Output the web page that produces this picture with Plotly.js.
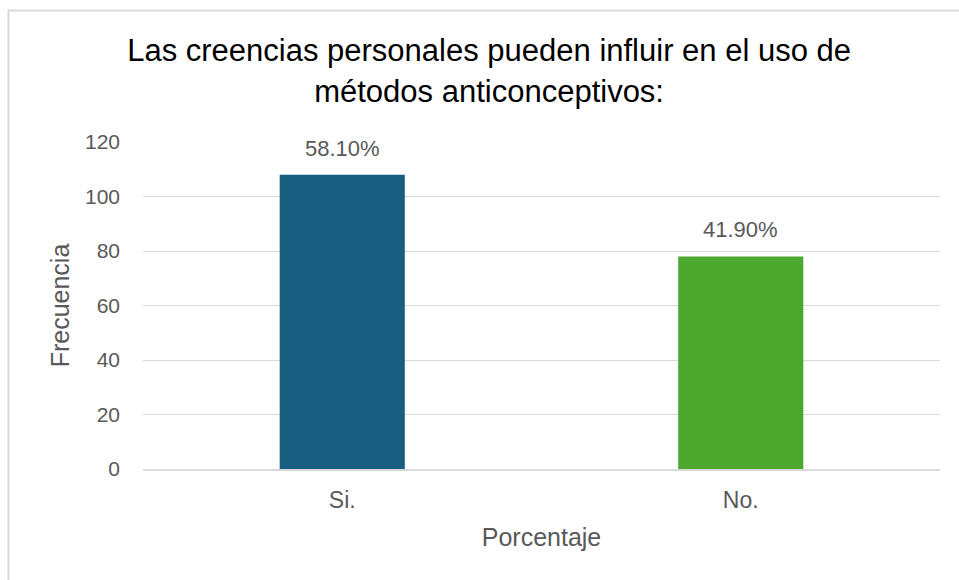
<!DOCTYPE html>
<html>
<head>
<meta charset="utf-8">
<script src="https://cdn.plot.ly/plotly-3.0.1.min.js"></script>
<style>
html, body { margin: 0; padding: 0; background: #ffffff; }
#chart { width: 959px; height: 580px; }
</style>
</head>
<body>
<div id="chart"></div>
<script>
const categories = ["Si.", "No."];
const frequencies = [108, 78];
const percentLabels = ["58.10%", "41.90%"];
const barColors = ["#175E80", "#4EA72E"];
const yTickValues = [0, 20, 40, 60, 80, 100, 120];

const FONT = "Liberation Sans, Arial, sans-serif";
const GREY = "#595959";

const trace = {
  type: "bar",
  x: categories,
  y: frequencies,
  marker: { color: barColors, line: { width: 0 } },
  hoverinfo: "none",
  cliponaxis: false
};

const annotations = categories.map((c, i) => ({
  x: c,
  y: frequencies[i],
  xref: "x",
  yref: "y",
  text: percentLabels[i],
  showarrow: false,
  yanchor: "bottom",
  yshift: 12,
  font: { family: FONT, size: 22, color: GREY }
}));

const layout = {
  width: 959,
  height: 580,
  margin: { l: 143, r: 19, t: 142, b: 111, pad: 0 },
  paper_bgcolor: "#ffffff",
  plot_bgcolor: "#ffffff",
  showlegend: false,
  bargap: 0.686,
  title: {
    text: "Las creencias personales pueden influir en el uso de<br>métodos anticonceptivos:",
    font: { family: FONT, size: 31, color: "#000000" },
    x: 0.51,
    xanchor: "center",
    y: 0.894,
    yanchor: "middle"
  },
  xaxis: {
    type: "category",
    showgrid: false,
    showline: true,
    linecolor: "#d9d9d9",
    linewidth: 2,
    ticks: "",
    tickfont: { family: FONT, size: 23, color: GREY },
    ticklabelstandoff: 9,
    title: {
      text: "Porcentaje",
      font: { family: FONT, size: 25, color: GREY },
      standoff: 17
    }
  },
  yaxis: {
    range: [0, 120],
    tickvals: yTickValues,
    ticktext: yTickValues.map(String),
    showgrid: true,
    gridcolor: "#d9d9d9",
    gridwidth: 1,
    zeroline: false,
    showline: false,
    ticks: "",
    tickfont: { family: FONT, size: 21, color: GREY },
    ticklabelstandoff: 22,
    title: {
      text: "Frecuencia",
      font: { family: FONT, size: 25, color: GREY },
      standoff: 8
    }
  },
  annotations: annotations,
  shapes: [{
    type: "rect",
    xref: "paper",
    yref: "paper",
    x0: (8.5 - 143) / 797,
    x1: (975 - 143) / 797,
    y0: (469 - 600) / 327,
    y1: (469 - 10.5) / 327,
    line: { color: "#d9d9d9", width: 2 },
    fillcolor: "rgba(0,0,0,0)",
    layer: "below"
  }]
};

Plotly.newPlot("chart", [trace], layout, { staticPlot: true, displayModeBar: false });
</script>
</body>
</html>
